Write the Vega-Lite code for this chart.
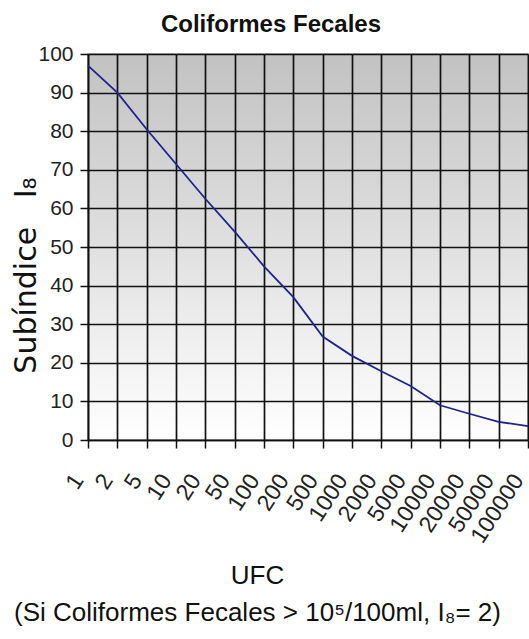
{
  "$schema": "https://vega.github.io/schema/vega-lite/v6.json",
  "width": 440,
  "height": 386,
  "autosize": {"type": "none"},
  "padding": {"left": 88, "top": 54, "right": 1, "bottom": 199},
  "background": "white",
  "title": {
    "text": "Coliformes Fecales",
    "font": "Liberation Sans Narrow, Liberation Sans, sans-serif",
    "fontSize": 24,
    "fontWeight": "bold",
    "color": "#111111",
    "anchor": "middle",
    "baseline": "alphabetic",
    "offset": -13,
    "dx": -37
  },
  "view": {
    "fill": {
      "gradient": "linear",
      "x1": 0, "y1": 0, "x2": 0, "y2": 1,
      "stops": [
        {"offset": 0, "color": "#c2c2c2"},
        {"offset": 1, "color": "#ffffff"}
      ]
    },
    "stroke": "#999999",
    "strokeWidth": 1.5
  },
  "data": {
    "values": [
      {"ufc": "1", "subindice": 97},
      {"ufc": "2", "subindice": 90},
      {"ufc": "5", "subindice": 80.5},
      {"ufc": "10", "subindice": 71.5},
      {"ufc": "20", "subindice": 62.5},
      {"ufc": "50", "subindice": 54},
      {"ufc": "100", "subindice": 45},
      {"ufc": "200", "subindice": 37},
      {"ufc": "500", "subindice": 26.8},
      {"ufc": "1000", "subindice": 21.8},
      {"ufc": "2000", "subindice": 17.8},
      {"ufc": "5000", "subindice": 14},
      {"ufc": "10000", "subindice": 9},
      {"ufc": "20000", "subindice": 6.8},
      {"ufc": "50000", "subindice": 4.7},
      {"ufc": "100000", "subindice": 3.6}
    ]
  },
  "mark": {"type": "line", "color": "#222290", "strokeWidth": 1.8},
  "encoding": {
    "x": {
      "field": "ufc",
      "type": "ordinal",
      "sort": null,
      "scale": {"type": "point", "padding": 0},
      "axis": {
        "title": ["\u00a0\u00a0\u00a0\u00a0\u00a0\u00a0\u00a0\u00a0\u00a0UFC", "(Si Coliformes Fecales > 10\u2075/100ml, I\u2088= 2)"],
        "titleFont": "Liberation Sans, sans-serif",
        "titleFontSize": 26,
        "titleFontWeight": "normal",
        "titleColor": "#111111",
        "titleLineHeight": 37,
        "titleX": 169,
        "titleY": 122,
        "titleAlign": "center",
        "titleBaseline": "top",
        "labelAngle": -57,
        "labelFont": "Liberation Sans, sans-serif",
        "labelFontSize": 23,
        "labelColor": "#222222",
        "labelPadding": 28,
        "labelOffset": -10,
        "tickSize": 8,
        "tickColor": "#111111",
        "tickWidth": 1.5,
        "domainColor": "#111111",
        "domainWidth": 1.5,
        "grid": true,
        "gridColor": "#111111",
        "gridWidth": 1.7,
        "gridOpacity": 1
      }
    },
    "y": {
      "field": "subindice",
      "type": "quantitative",
      "scale": {"domain": [0, 100], "nice": false},
      "axis": {
        "values": [0, 10, 20, 30, 40, 50, 60, 70, 80, 90, 100],
        "title": "Sub\u00edndice\u00a0\u00a0 I\u2088",
        "titleFont": "DejaVu Sans, sans-serif",
        "titleFontSize": 30,
        "titleFontWeight": "normal",
        "titleColor": "#111111",
        "titleAngle": 270,
        "titleX": -62,
        "titleY": 221,
        "titleAlign": "center",
        "titleBaseline": "middle",
        "labelFont": "Liberation Sans, sans-serif",
        "labelFontSize": 21,
        "labelColor": "#222222",
        "labelPadding": 7,
        "tickSize": 8,
        "tickColor": "#111111",
        "tickWidth": 1.5,
        "domainColor": "#111111",
        "domainWidth": 1.5,
        "grid": true,
        "gridColor": "#111111",
        "gridWidth": 1.7,
        "gridOpacity": 1
      }
    }
  }
}
